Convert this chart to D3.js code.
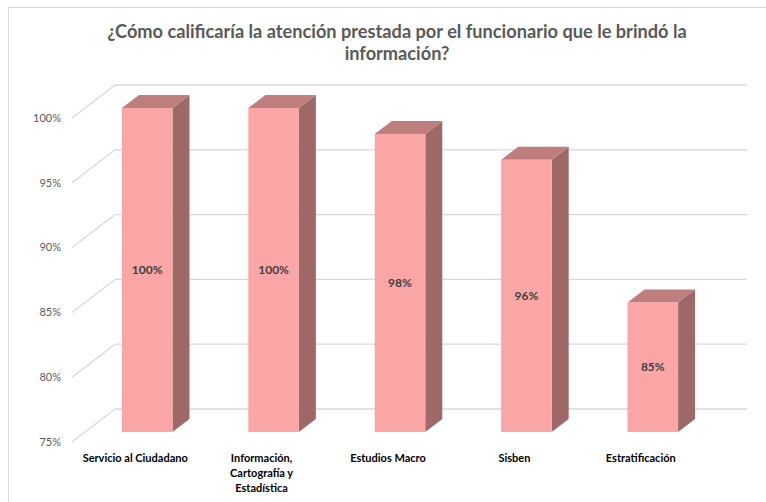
<!DOCTYPE html>
<html lang="es">
<head>
<meta charset="utf-8">
<style>
  body { margin: 0; background: #fff; }
  text { font-family: Lato, "Open Sans", sans-serif; }
</style>
</head>
<body>
<svg width="766" height="502"></svg>
<script src="https://cdn.jsdelivr.net/npm/d3@7"></script>
<script>
// data
var categories = ["Servicio al Ciudadano", "Información, Cartografía y Estadística", "Estudios Macro", "Sisben", "Estratificación"];
var catLines = [["Servicio al Ciudadano"], ["Información,", "Cartografía y", "Estadística"], ["Estudios Macro"], ["Sisben"], ["Estratificación"]];
var values = [1.00, 1.00, 0.98, 0.96, 0.85];
var yTicks = [0.75, 0.80, 0.85, 0.90, 0.95, 1.00];
var titleLines = ["¿Cómo calificaría  la atención prestada por el funcionario que le brindó la", "información?"];

var svg = d3.select("svg");

// chart border
svg.append("rect")
    .attr("x", 8.5).attr("y", 7.5)
    .attr("width", 770).attr("height", 500)
    .attr("fill", "none").attr("stroke", "#d9d9d9");

// title
svg.append("text")
    .attr("x", 397).attr("y", 38)
    .attr("text-anchor", "middle")
    .attr("font-size", "18.2px").attr("font-weight", "bold")
    .attr("fill", "#595959")
    .selectAll("tspan").data(titleLines).enter().append("tspan")
    .attr("x", 397)
    .attr("dy", function (d, i) { return i == 0 ? 0 : 22; })
    .text(function (d) { return d; });

// scales (front face of the bars)
var y = d3.scaleLinear().domain([0.75, 1]).range([432, 108]);
var x = d3.scaleBand().domain(categories).range([84, 716]).paddingInner(0.6).paddingOuter(0.3);

var depthX = 17, depthY = 13;   // bar depth
var wallDX = 43, wallDY = 33;   // axis label -> back wall

// back wall grid
var grid = svg.append("g");
grid.selectAll(".gl").data(yTicks).enter().append("line")
    .attr("x1", 72 + wallDX).attr("x2", 747)
    .attr("y1", function (d) { return y(d) + 10 - wallDY; })
    .attr("y2", function (d) { return y(d) + 10 - wallDY; })
    .attr("stroke", "#d9d9d9").attr("stroke-width", 1.3);
grid.selectAll(".diag").data(yTicks).enter().append("line")
    .attr("x1", 72).attr("x2", 72 + wallDX)
    .attr("y1", function (d) { return y(d) + 10; })
    .attr("y2", function (d) { return y(d) + 10 - wallDY; })
    .attr("stroke", "#d9d9d9").attr("stroke-width", 1.3);

// y axis labels
svg.append("g").selectAll("text").data(yTicks).enter().append("text")
    .attr("x", 61)
    .attr("y", function (d) { return y(d) + 10; })
    .attr("dy", "0.35em")
    .attr("text-anchor", "end")
    .attr("font-size", "11px")
    .attr("fill", "#595959")
    .text(d3.format(".0%"));

// bars
var bw = x.bandwidth();
var bars = svg.append("g").selectAll("g").data(values).enter().append("g");

bars.append("path")
    .attr("fill", "#9e6867")
    .attr("d", function (d, i) {
        var x0 = x(categories[i]) + bw, t = y(d), b = y(0.75);
        return "M" + x0 + "," + t + "L" + (x0 + depthX) + "," + (t - depthY) +
            "L" + (x0 + depthX) + "," + (b - depthY) + "L" + x0 + "," + b + "Z";
    });
bars.append("path")
    .attr("fill", "#bf7e7e")
    .attr("d", function (d, i) {
        var x0 = x(categories[i]), t = y(d);
        return "M" + x0 + "," + t + "L" + (x0 + depthX) + "," + (t - depthY) +
            "L" + (x0 + bw + depthX) + "," + (t - depthY) + "L" + (x0 + bw) + "," + t + "Z";
    });
bars.append("rect")
    .attr("fill", "#fba6a6")
    .attr("x", function (d, i) { return x(categories[i]); })
    .attr("y", function (d) { return y(d); })
    .attr("width", bw)
    .attr("height", function (d) { return y(0.75) - y(d); });

bars.append("text")
    .attr("x", function (d, i) { return x(categories[i]) + bw / 2; })
    .attr("y", function (d) { return (y(d) + y(0.75)) / 2; })
    .attr("dy", "0.35em")
    .attr("text-anchor", "middle")
    .attr("font-size", "12px").attr("font-weight", "bold")
    .attr("fill", "#404040")
    .text(function (d) { return d3.format(".0%")(d); });

// category labels
svg.append("g").selectAll("text").data(catLines).enter().append("text")
    .attr("text-anchor", "middle")
    .attr("font-size", "11px").attr("font-weight", "bold")
    .attr("fill", "#000")
    .each(function (lines, i) {
        var cx = x(categories[i]) + bw / 2 - 12;
        d3.select(this).selectAll("tspan").data(lines).enter().append("tspan")
            .attr("x", cx)
            .attr("y", function (d, j) { return 462 + j * 15; })
            .text(function (d) { return d; });
    });
</script>
</body>
</html>
